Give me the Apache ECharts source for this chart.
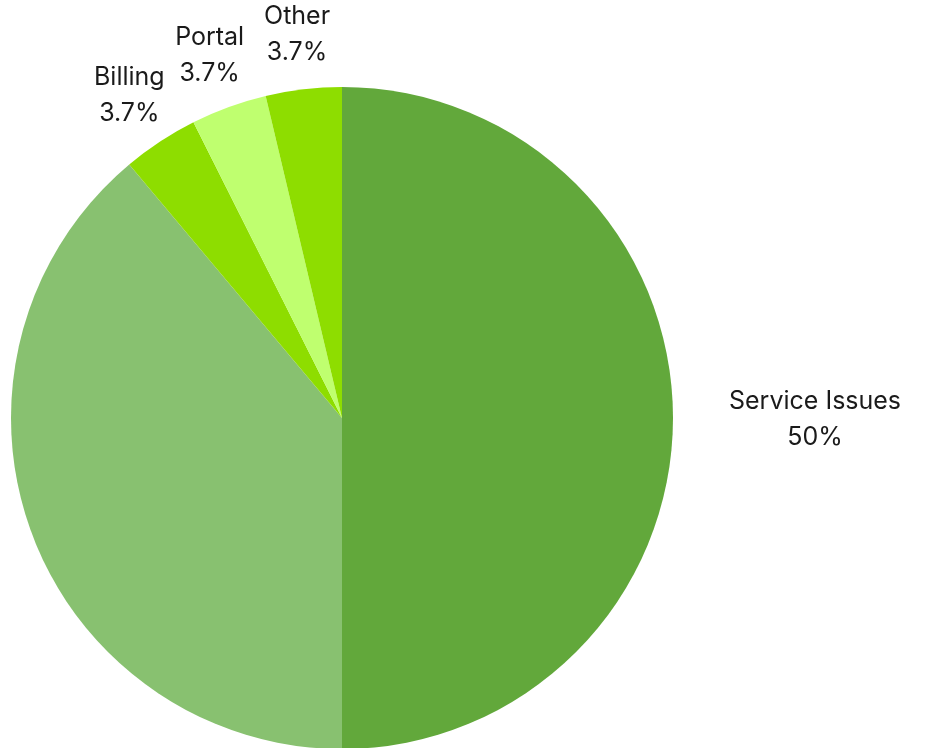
<!DOCTYPE html>
<html>
<head>
<meta charset="utf-8">
<script src="https://cdn.jsdelivr.net/npm/echarts@6/dist/echarts.min.js"></script>
<style>
  html, body { margin: 0; padding: 0; background: #fff; }
  #chart { width: 926px; height: 748px; }
</style>
</head>
<body>
<div id="chart"></div>
<script>
// categories + counts (percent labels come from these)
var categories = ['Service Issues', 'Technical Support', 'Billing', 'Portal', 'Other'];
var counts = [27, 21, 2, 2, 2];
var sliceColors = ['#62a83b', '#88c170', '#8edd00', '#bfff6f', '#8edd00'];
var hiddenLabels = ['Technical Support']; // its label falls outside the picture

var pieCenter = [342, 418];
var pieRadius = 331;
var labelRadius = 387;

var total = counts.reduce(function (a, b) { return a + b; }, 0);

function pct(v) {
    var p = v / total * 100;
    return (Math.abs(p - Math.round(p)) < 0.05 ? Math.round(p) : p.toFixed(1)) + '%';
}

// mid angle of each slice, clockwise from 12 o'clock
function midAngle(idx) {
    var before = 0;
    for (var i = 0; i < idx; i++) before += counts[i];
    return (before + counts[idx] / 2) / total * Math.PI * 2;
}

var chart = echarts.init(document.getElementById('chart'));

var option = {
    animation: false,
    series: [{
        type: 'pie',
        center: pieCenter,
        radius: pieRadius,
        startAngle: 90,
        clockwise: true,
        data: categories.map(function (name, i) {
            return {
                name: name,
                value: counts[i],
                itemStyle: { color: sliceColors[i] },
                label: { show: hiddenLabels.indexOf(name) < 0 }
            };
        }),
        label: {
            show: true,
            position: 'inside',   // moved outward in labelLayout, avoids truncation
            formatter: function (p) { return p.name + '\n' + pct(p.value); },
            fontFamily: 'Inter',
            fontSize: 25,
            lineHeight: 36,
            color: '#1a1a1a',
            align: 'center'
        },
        labelLine: { show: false },
        labelLayout: function (params) {
            var a = midAngle(params.dataIndex);
            var s = Math.sin(a), c = Math.cos(a);
            var x = pieCenter[0] + labelRadius * s;
            // labels right of the pie start at the anchor
            if (s > 0.9) x += params.labelRect.width / 2;
            if (s < -0.9) x -= params.labelRect.width / 2;
            return {
                x: x,
                y: pieCenter[1] - labelRadius * c + 1,
                align: 'center',
                verticalAlign: 'middle'
            };
        },
        itemStyle: { borderWidth: 0 },
        emphasis: { disabled: true }
    }]
};

chart.setOption(option, true);
window.onresize = function () {
    chart.resize();
};
</script>
</body>
</html>
